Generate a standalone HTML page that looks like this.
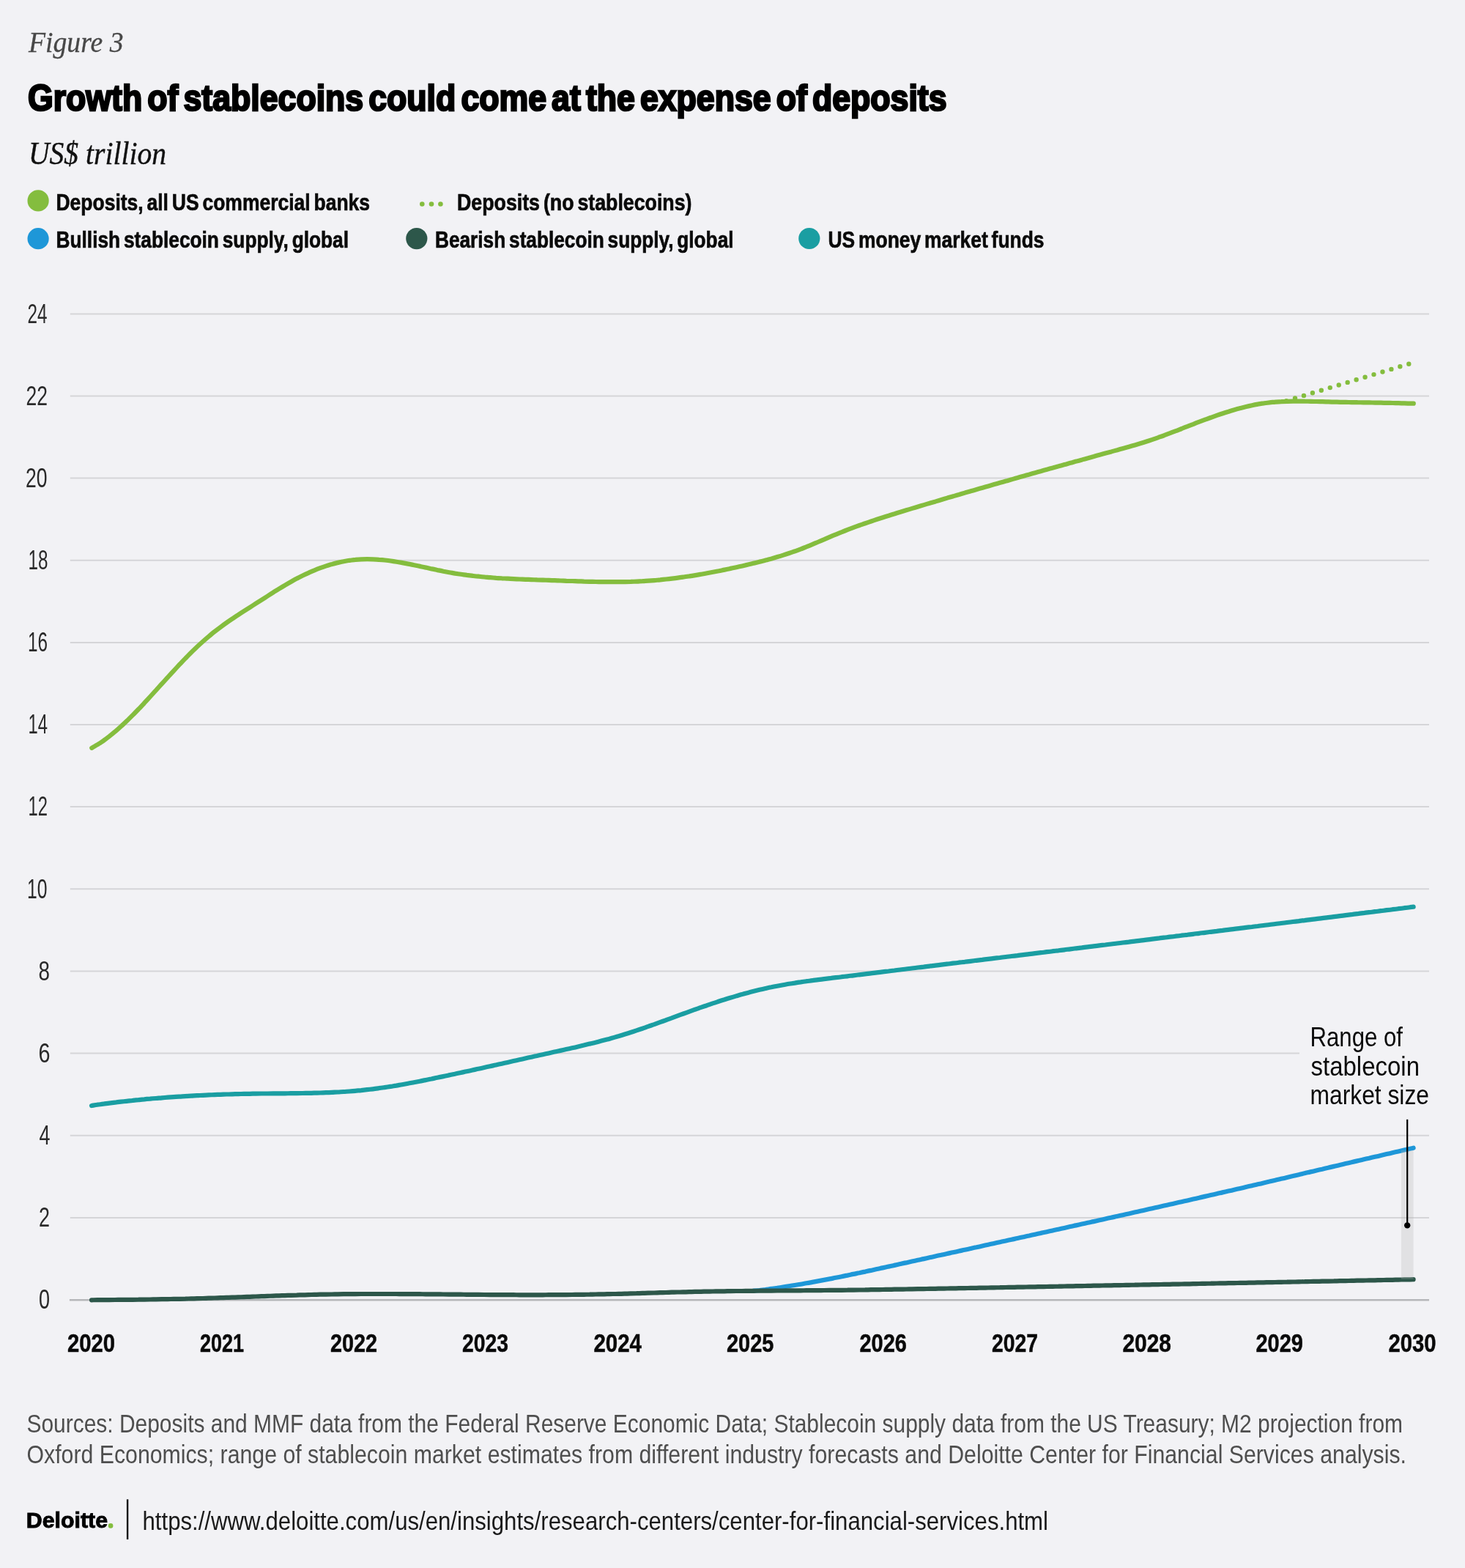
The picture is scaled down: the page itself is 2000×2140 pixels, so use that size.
<!DOCTYPE html>
<html><head><meta charset="utf-8"><title>Growth of stablecoins could come at the expense of deposits</title>
<style>html,body{margin:0;padding:0;background:#f2f2f5;} svg{display:block;}</style></head>
<body>
<svg width="2000" height="2140" viewBox="0 0 2000 2140">
<rect width="2000" height="2140" fill="#f2f2f5"/>
<text x="39.00" y="71.2" font-family="'Liberation Serif', serif" font-size="39.4" font-weight="normal" font-style="italic" fill="#484848" textLength="129.50" lengthAdjust="spacingAndGlyphs" stroke="#484848" stroke-width="0.3">Figure 3</text>
<text x="38.00" y="151.0" font-family="'Liberation Sans', sans-serif" font-size="50.5" font-weight="bold" font-style="normal" fill="#000" textLength="1254.50" lengthAdjust="spacingAndGlyphs" stroke="#000" stroke-width="2.6" word-spacing="-6">Growth of stablecoins could come at the expense of deposits</text>
<text x="39.00" y="224.0" font-family="'Liberation Serif', serif" font-size="44.8" font-weight="normal" font-style="italic" fill="#111" textLength="188.00" lengthAdjust="spacingAndGlyphs" stroke="#111" stroke-width="0.4">US$ trillion</text>
<circle cx="52.1" cy="273.9" r="14.6" fill="#84bd3e"/>
<circle cx="52.1" cy="325.7" r="14.6" fill="#1e97d8"/>
<circle cx="568.8" cy="325.6" r="14.6" fill="#2d574a"/>
<circle cx="1104.8" cy="325.5" r="14.6" fill="#1a9ea2"/>
<circle cx="576.3" cy="278.5" r="3.3" fill="#84bd3e"/>
<circle cx="589.0" cy="278.5" r="3.3" fill="#84bd3e"/>
<circle cx="601.4" cy="278.5" r="3.3" fill="#84bd3e"/>
<text x="76.50" y="286.9" font-family="'Liberation Sans', sans-serif" font-size="32.0" font-weight="bold" font-style="normal" fill="#0a0a0a" textLength="428.50" lengthAdjust="spacingAndGlyphs" stroke="#0a0a0a" stroke-width="0.7" word-spacing="-3">Deposits, all US commercial banks</text>
<text x="624.00" y="286.9" font-family="'Liberation Sans', sans-serif" font-size="32.0" font-weight="bold" font-style="normal" fill="#0a0a0a" textLength="320.50" lengthAdjust="spacingAndGlyphs" stroke="#0a0a0a" stroke-width="0.7" word-spacing="-3">Deposits (no stablecoins)</text>
<text x="76.50" y="338.4" font-family="'Liberation Sans', sans-serif" font-size="32.0" font-weight="bold" font-style="normal" fill="#0a0a0a" textLength="399.50" lengthAdjust="spacingAndGlyphs" stroke="#0a0a0a" stroke-width="0.7" word-spacing="-3">Bullish stablecoin supply, global</text>
<text x="594.00" y="338.4" font-family="'Liberation Sans', sans-serif" font-size="32.0" font-weight="bold" font-style="normal" fill="#0a0a0a" textLength="407.50" lengthAdjust="spacingAndGlyphs" stroke="#0a0a0a" stroke-width="0.7" word-spacing="-3">Bearish stablecoin supply, global</text>
<text x="1130.50" y="338.4" font-family="'Liberation Sans', sans-serif" font-size="32.0" font-weight="bold" font-style="normal" fill="#0a0a0a" textLength="295.00" lengthAdjust="spacingAndGlyphs" stroke="#0a0a0a" stroke-width="0.7" word-spacing="-3">US money market funds</text>
<line x1="95.8" y1="428.4" x2="1951" y2="428.4" stroke="#d5d5d8" stroke-width="2"/>
<line x1="95.8" y1="540.5" x2="1951" y2="540.5" stroke="#d5d5d8" stroke-width="2"/>
<line x1="95.8" y1="652.6" x2="1951" y2="652.6" stroke="#d5d5d8" stroke-width="2"/>
<line x1="95.8" y1="764.7" x2="1951" y2="764.7" stroke="#d5d5d8" stroke-width="2"/>
<line x1="95.8" y1="876.9" x2="1951" y2="876.9" stroke="#d5d5d8" stroke-width="2"/>
<line x1="95.8" y1="989.0" x2="1951" y2="989.0" stroke="#d5d5d8" stroke-width="2"/>
<line x1="95.8" y1="1101.1" x2="1951" y2="1101.1" stroke="#d5d5d8" stroke-width="2"/>
<line x1="95.8" y1="1213.3" x2="1951" y2="1213.3" stroke="#d5d5d8" stroke-width="2"/>
<line x1="95.8" y1="1325.4" x2="1951" y2="1325.4" stroke="#d5d5d8" stroke-width="2"/>
<line x1="95.8" y1="1437.6" x2="1774" y2="1437.6" stroke="#d5d5d8" stroke-width="2"/>
<line x1="95.8" y1="1549.8" x2="1951" y2="1549.8" stroke="#d5d5d8" stroke-width="2"/>
<line x1="95.8" y1="1661.9" x2="1951" y2="1661.9" stroke="#d5d5d8" stroke-width="2"/>
<line x1="94.9" y1="1774.3" x2="1951" y2="1774.3" stroke="#b6b7ba" stroke-width="2.5"/>
<text x="37.50" y="440.7" font-family="'Liberation Sans', sans-serif" font-size="36.3" font-weight="normal" font-style="normal" fill="#2a2a2a" textLength="27.00" lengthAdjust="spacingAndGlyphs" >24</text>
<text x="35.50" y="552.8" font-family="'Liberation Sans', sans-serif" font-size="36.3" font-weight="normal" font-style="normal" fill="#2a2a2a" textLength="29.50" lengthAdjust="spacingAndGlyphs" >22</text>
<text x="35.00" y="664.9" font-family="'Liberation Sans', sans-serif" font-size="36.3" font-weight="normal" font-style="normal" fill="#2a2a2a" textLength="29.50" lengthAdjust="spacingAndGlyphs" >20</text>
<text x="38.50" y="777.0" font-family="'Liberation Sans', sans-serif" font-size="36.3" font-weight="normal" font-style="normal" fill="#2a2a2a" textLength="27.00" lengthAdjust="spacingAndGlyphs" >18</text>
<text x="38.00" y="889.2" font-family="'Liberation Sans', sans-serif" font-size="36.3" font-weight="normal" font-style="normal" fill="#2a2a2a" textLength="27.00" lengthAdjust="spacingAndGlyphs" >16</text>
<text x="38.50" y="1001.3" font-family="'Liberation Sans', sans-serif" font-size="36.3" font-weight="normal" font-style="normal" fill="#2a2a2a" textLength="26.50" lengthAdjust="spacingAndGlyphs" >14</text>
<text x="38.50" y="1113.4" font-family="'Liberation Sans', sans-serif" font-size="36.3" font-weight="normal" font-style="normal" fill="#2a2a2a" textLength="26.50" lengthAdjust="spacingAndGlyphs" >12</text>
<text x="37.00" y="1225.6" font-family="'Liberation Sans', sans-serif" font-size="36.3" font-weight="normal" font-style="normal" fill="#2a2a2a" textLength="27.50" lengthAdjust="spacingAndGlyphs" >10</text>
<text x="52.50" y="1337.7" font-family="'Liberation Sans', sans-serif" font-size="36.3" font-weight="normal" font-style="normal" fill="#2a2a2a" textLength="15.50" lengthAdjust="spacingAndGlyphs" >8</text>
<text x="52.50" y="1449.9" font-family="'Liberation Sans', sans-serif" font-size="36.3" font-weight="normal" font-style="normal" fill="#2a2a2a" textLength="16.00" lengthAdjust="spacingAndGlyphs" >6</text>
<text x="53.50" y="1562.1" font-family="'Liberation Sans', sans-serif" font-size="36.3" font-weight="normal" font-style="normal" fill="#2a2a2a" textLength="15.00" lengthAdjust="spacingAndGlyphs" >4</text>
<text x="53.00" y="1674.2" font-family="'Liberation Sans', sans-serif" font-size="36.3" font-weight="normal" font-style="normal" fill="#2a2a2a" textLength="15.00" lengthAdjust="spacingAndGlyphs" >2</text>
<text x="53.00" y="1786.4" font-family="'Liberation Sans', sans-serif" font-size="36.3" font-weight="normal" font-style="normal" fill="#2a2a2a" textLength="15.00" lengthAdjust="spacingAndGlyphs" >0</text>
<text x="92.00" y="1845.4" font-family="'Liberation Sans', sans-serif" font-size="34.4" font-weight="bold" font-style="normal" fill="#0a0a0a" textLength="65.00" lengthAdjust="spacingAndGlyphs" stroke="#0a0a0a" stroke-width="0.5">2020</text>
<text x="273.00" y="1845.4" font-family="'Liberation Sans', sans-serif" font-size="34.4" font-weight="bold" font-style="normal" fill="#0a0a0a" textLength="60.00" lengthAdjust="spacingAndGlyphs" stroke="#0a0a0a" stroke-width="0.5">2021</text>
<text x="451.00" y="1845.4" font-family="'Liberation Sans', sans-serif" font-size="34.4" font-weight="bold" font-style="normal" fill="#0a0a0a" textLength="64.00" lengthAdjust="spacingAndGlyphs" stroke="#0a0a0a" stroke-width="0.5">2022</text>
<text x="631.00" y="1845.4" font-family="'Liberation Sans', sans-serif" font-size="34.4" font-weight="bold" font-style="normal" fill="#0a0a0a" textLength="63.00" lengthAdjust="spacingAndGlyphs" stroke="#0a0a0a" stroke-width="0.5">2023</text>
<text x="810.50" y="1845.4" font-family="'Liberation Sans', sans-serif" font-size="34.4" font-weight="bold" font-style="normal" fill="#0a0a0a" textLength="65.50" lengthAdjust="spacingAndGlyphs" stroke="#0a0a0a" stroke-width="0.5">2024</text>
<text x="992.00" y="1845.4" font-family="'Liberation Sans', sans-serif" font-size="34.4" font-weight="bold" font-style="normal" fill="#0a0a0a" textLength="64.50" lengthAdjust="spacingAndGlyphs" stroke="#0a0a0a" stroke-width="0.5">2025</text>
<text x="1173.50" y="1845.4" font-family="'Liberation Sans', sans-serif" font-size="34.4" font-weight="bold" font-style="normal" fill="#0a0a0a" textLength="64.50" lengthAdjust="spacingAndGlyphs" stroke="#0a0a0a" stroke-width="0.5">2026</text>
<text x="1354.00" y="1845.4" font-family="'Liberation Sans', sans-serif" font-size="34.4" font-weight="bold" font-style="normal" fill="#0a0a0a" textLength="63.00" lengthAdjust="spacingAndGlyphs" stroke="#0a0a0a" stroke-width="0.5">2027</text>
<text x="1532.50" y="1845.4" font-family="'Liberation Sans', sans-serif" font-size="34.4" font-weight="bold" font-style="normal" fill="#0a0a0a" textLength="66.50" lengthAdjust="spacingAndGlyphs" stroke="#0a0a0a" stroke-width="0.5">2028</text>
<text x="1714.50" y="1845.4" font-family="'Liberation Sans', sans-serif" font-size="34.4" font-weight="bold" font-style="normal" fill="#0a0a0a" textLength="64.50" lengthAdjust="spacingAndGlyphs" stroke="#0a0a0a" stroke-width="0.5">2029</text>
<text x="1895.50" y="1845.4" font-family="'Liberation Sans', sans-serif" font-size="34.4" font-weight="bold" font-style="normal" fill="#0a0a0a" textLength="65.00" lengthAdjust="spacingAndGlyphs" stroke="#0a0a0a" stroke-width="0.5">2030</text>
<path d="M1756.05,547.1 L1923.3,496.7" fill="none" stroke="#84bd3e" stroke-width="6.4" stroke-linecap="round" stroke-dasharray="0 12.477"/>
<path d="M125.3,1020.8 C126.6,1020.0 130.6,1017.8 133.3,1016.2 C136.0,1014.5 138.6,1012.7 141.3,1010.9 C144.0,1009.0 146.6,1007.0 149.3,1004.9 C152.0,1002.8 154.6,1000.6 157.3,998.4 C160.0,996.1 162.6,993.8 165.3,991.3 C168.0,988.9 170.6,986.4 173.3,983.8 C176.0,981.2 178.6,978.6 181.3,975.9 C184.0,973.2 186.6,970.5 189.3,967.7 C192.0,964.9 194.6,962.1 197.3,959.2 C200.0,956.3 202.6,953.4 205.3,950.5 C208.0,947.6 210.6,944.7 213.3,941.7 C216.0,938.8 218.6,935.8 221.3,932.9 C224.0,930.0 226.6,927.0 229.3,924.1 C232.0,921.1 234.6,918.2 237.3,915.3 C240.0,912.4 242.6,909.6 245.3,906.7 C248.0,903.9 250.6,901.1 253.3,898.4 C256.0,895.6 258.6,892.9 261.3,890.3 C264.0,887.6 266.6,885.0 269.3,882.5 C272.0,880.0 274.6,877.6 277.3,875.2 C280.0,872.8 282.6,870.5 285.3,868.3 C288.0,866.1 290.6,863.9 293.3,861.8 C296.0,859.7 298.6,857.7 301.3,855.7 C304.0,853.7 306.6,851.8 309.3,849.9 C312.0,848.0 314.6,846.2 317.3,844.4 C320.0,842.6 322.6,840.8 325.3,839.1 C328.0,837.3 330.6,835.6 333.3,833.9 C336.0,832.2 338.6,830.5 341.3,828.8 C344.0,827.1 346.6,825.4 349.3,823.7 C352.0,822.0 354.6,820.3 357.3,818.6 C360.0,816.9 362.6,815.2 365.3,813.5 C368.0,811.8 370.6,810.1 373.3,808.4 C376.0,806.7 378.6,805.0 381.3,803.4 C384.0,801.8 386.6,800.2 389.3,798.6 C392.0,797.0 394.6,795.5 397.3,794.0 C400.0,792.5 402.6,791.0 405.3,789.6 C408.0,788.2 410.6,786.8 413.3,785.5 C416.0,784.2 418.6,783.0 421.3,781.8 C424.0,780.6 426.6,779.4 429.3,778.3 C432.0,777.2 434.6,776.2 437.3,775.2 C440.0,774.2 442.6,773.3 445.3,772.4 C448.0,771.6 450.6,770.7 453.3,770.0 C456.0,769.2 458.6,768.5 461.3,767.9 C464.0,767.3 466.6,766.7 469.3,766.2 C472.0,765.7 474.6,765.2 477.3,764.8 C480.0,764.5 482.6,764.1 485.3,763.9 C488.0,763.6 490.6,763.4 493.3,763.3 C496.0,763.2 498.6,763.1 501.3,763.1 C504.0,763.1 506.6,763.2 509.3,763.3 C512.0,763.4 514.6,763.5 517.3,763.8 C520.0,764.0 522.6,764.2 525.3,764.5 C528.0,764.8 530.6,765.1 533.3,765.5 C536.0,765.9 538.6,766.3 541.3,766.7 C544.0,767.1 546.6,767.6 549.3,768.1 C552.0,768.6 554.6,769.1 557.3,769.6 C560.0,770.1 562.6,770.7 565.3,771.2 C568.0,771.8 570.6,772.4 573.3,772.9 C576.0,773.5 578.6,774.1 581.3,774.6 C584.0,775.2 586.6,775.8 589.3,776.4 C592.0,776.9 594.6,777.5 597.3,778.1 C600.0,778.6 602.6,779.1 605.3,779.7 C608.0,780.2 610.6,780.7 613.3,781.2 C616.0,781.7 618.6,782.1 621.3,782.6 C624.0,783.0 626.6,783.4 629.3,783.8 C632.0,784.2 634.6,784.5 637.3,784.9 C640.0,785.2 642.6,785.6 645.3,785.9 C648.0,786.2 650.6,786.5 653.3,786.7 C656.0,787.0 658.6,787.3 661.3,787.5 C664.0,787.7 666.6,788.0 669.3,788.2 C672.0,788.4 674.6,788.6 677.3,788.8 C680.0,788.9 682.6,789.1 685.3,789.3 C688.0,789.4 690.6,789.6 693.3,789.7 C696.0,789.9 698.6,790.0 701.3,790.1 C704.0,790.2 706.6,790.4 709.3,790.5 C712.0,790.6 714.6,790.7 717.3,790.8 C720.0,790.9 722.6,791.0 725.3,791.1 C728.0,791.2 730.6,791.3 733.3,791.4 C736.0,791.4 738.6,791.5 741.3,791.6 C744.0,791.7 746.6,791.8 749.3,791.9 C752.0,792.0 754.6,792.1 757.3,792.2 C760.0,792.3 762.6,792.4 765.3,792.5 C768.0,792.6 770.6,792.7 773.3,792.8 C776.0,792.8 778.6,792.9 781.3,793.0 C784.0,793.1 786.6,793.2 789.3,793.3 C792.0,793.4 794.6,793.5 797.3,793.6 C800.0,793.6 802.6,793.7 805.3,793.8 C808.0,793.9 810.6,793.9 813.3,794.0 C816.0,794.0 818.6,794.1 821.3,794.1 C824.0,794.1 826.6,794.2 829.3,794.2 C832.0,794.2 834.6,794.2 837.3,794.2 C840.0,794.2 842.6,794.2 845.3,794.2 C848.0,794.2 850.6,794.1 853.3,794.1 C856.0,794.0 858.6,793.9 861.3,793.9 C864.0,793.8 866.6,793.7 869.3,793.6 C872.0,793.5 874.6,793.3 877.3,793.2 C880.0,793.0 882.6,792.9 885.3,792.7 C888.0,792.5 890.6,792.3 893.3,792.1 C896.0,791.9 898.6,791.6 901.3,791.4 C904.0,791.1 906.6,790.8 909.3,790.5 C912.0,790.3 914.6,790.0 917.3,789.6 C920.0,789.3 922.6,789.0 925.3,788.6 C928.0,788.3 930.6,787.9 933.3,787.5 C936.0,787.2 938.6,786.8 941.3,786.4 C944.0,785.9 946.6,785.5 949.3,785.1 C952.0,784.7 954.6,784.2 957.3,783.7 C960.0,783.3 962.6,782.8 965.3,782.3 C968.0,781.8 970.6,781.3 973.3,780.8 C976.0,780.3 978.6,779.8 981.3,779.3 C984.0,778.7 986.6,778.2 989.3,777.6 C992.0,777.1 994.6,776.5 997.3,775.9 C1000.0,775.4 1002.6,774.8 1005.3,774.2 C1008.0,773.6 1010.6,773.0 1013.3,772.4 C1016.0,771.8 1018.6,771.2 1021.3,770.5 C1024.0,769.9 1026.6,769.3 1029.3,768.6 C1032.0,768.0 1034.6,767.3 1037.3,766.6 C1040.0,766.0 1042.6,765.3 1045.3,764.6 C1048.0,763.9 1050.6,763.1 1053.3,762.4 C1056.0,761.6 1058.6,760.9 1061.3,760.1 C1064.0,759.3 1066.6,758.5 1069.3,757.6 C1072.0,756.8 1074.6,755.9 1077.3,755.0 C1080.0,754.1 1082.6,753.2 1085.3,752.3 C1088.0,751.3 1090.6,750.3 1093.3,749.3 C1096.0,748.3 1098.6,747.2 1101.3,746.2 C1104.0,745.1 1106.6,744.0 1109.3,742.9 C1112.0,741.8 1114.6,740.6 1117.3,739.5 C1120.0,738.3 1122.6,737.2 1125.3,736.1 C1128.0,734.9 1130.6,733.8 1133.3,732.6 C1136.0,731.5 1138.6,730.4 1141.3,729.3 C1144.0,728.2 1146.6,727.1 1149.3,726.1 C1152.0,725.0 1154.6,724.0 1157.3,722.9 C1160.0,721.9 1162.6,720.9 1165.3,719.9 C1168.0,718.9 1170.6,718.0 1173.3,717.0 C1176.0,716.1 1178.6,715.1 1181.3,714.2 C1184.0,713.3 1186.6,712.4 1189.3,711.5 C1192.0,710.6 1194.6,709.7 1197.3,708.8 C1200.0,707.9 1202.6,707.1 1205.3,706.2 C1208.0,705.3 1210.6,704.5 1213.3,703.7 C1216.0,702.8 1218.6,702.0 1221.3,701.2 C1224.0,700.3 1226.6,699.5 1229.3,698.7 C1232.0,697.9 1234.6,697.1 1237.3,696.3 C1240.0,695.5 1242.6,694.7 1245.3,693.9 C1248.0,693.1 1250.6,692.3 1253.3,691.5 C1256.0,690.7 1258.6,689.9 1261.3,689.1 C1264.0,688.3 1266.6,687.5 1269.3,686.7 C1272.0,685.9 1274.6,685.1 1277.3,684.4 C1280.0,683.6 1282.6,682.8 1285.3,682.0 C1288.0,681.2 1290.6,680.4 1293.3,679.6 C1296.0,678.9 1298.6,678.1 1301.3,677.3 C1304.0,676.5 1306.6,675.7 1309.3,675.0 C1312.0,674.2 1314.6,673.4 1317.3,672.6 C1320.0,671.9 1322.6,671.1 1325.3,670.3 C1328.0,669.5 1330.6,668.8 1333.3,668.0 C1336.0,667.2 1338.6,666.5 1341.3,665.7 C1344.0,664.9 1346.6,664.2 1349.3,663.4 C1352.0,662.6 1354.6,661.9 1357.3,661.1 C1360.0,660.3 1362.6,659.6 1365.3,658.8 C1368.0,658.0 1370.6,657.3 1373.3,656.5 C1376.0,655.8 1378.6,655.0 1381.3,654.3 C1384.0,653.5 1386.6,652.7 1389.3,652.0 C1392.0,651.2 1394.6,650.5 1397.3,649.7 C1400.0,649.0 1402.6,648.2 1405.3,647.5 C1408.0,646.7 1410.6,646.0 1413.3,645.2 C1416.0,644.5 1418.6,643.7 1421.3,643.0 C1424.0,642.2 1426.6,641.5 1429.3,640.7 C1432.0,640.0 1434.6,639.2 1437.3,638.5 C1440.0,637.7 1442.6,637.0 1445.3,636.3 C1448.0,635.5 1450.6,634.8 1453.3,634.0 C1456.0,633.3 1458.6,632.5 1461.3,631.8 C1464.0,631.1 1466.6,630.3 1469.3,629.6 C1472.0,628.8 1474.6,628.1 1477.3,627.4 C1480.0,626.6 1482.6,625.9 1485.3,625.2 C1488.0,624.4 1490.6,623.7 1493.3,623.0 C1496.0,622.2 1498.6,621.5 1501.3,620.7 C1504.0,620.0 1506.6,619.3 1509.3,618.5 C1512.0,617.8 1514.6,617.1 1517.3,616.4 C1520.0,615.6 1522.6,614.9 1525.3,614.2 C1528.0,613.4 1530.6,612.7 1533.3,611.9 C1536.0,611.2 1538.6,610.5 1541.3,609.7 C1544.0,608.9 1546.6,608.2 1549.3,607.4 C1552.0,606.6 1554.6,605.8 1557.3,605.0 C1560.0,604.2 1562.6,603.4 1565.3,602.5 C1568.0,601.6 1570.6,600.8 1573.3,599.9 C1576.0,598.9 1578.6,598.0 1581.3,597.1 C1584.0,596.1 1586.6,595.1 1589.3,594.2 C1592.0,593.2 1594.6,592.2 1597.3,591.2 C1600.0,590.1 1602.6,589.1 1605.3,588.1 C1608.0,587.1 1610.6,586.0 1613.3,585.0 C1616.0,583.9 1618.6,582.9 1621.3,581.9 C1624.0,580.8 1626.6,579.8 1629.3,578.8 C1632.0,577.7 1634.6,576.7 1637.3,575.7 C1640.0,574.7 1642.6,573.7 1645.3,572.7 C1648.0,571.7 1650.6,570.7 1653.3,569.8 C1656.0,568.8 1658.6,567.9 1661.3,566.9 C1664.0,566.0 1666.6,565.1 1669.3,564.2 C1672.0,563.3 1674.6,562.5 1677.3,561.7 C1680.0,560.8 1682.6,560.0 1685.3,559.2 C1688.0,558.5 1690.6,557.7 1693.3,557.0 C1696.0,556.3 1698.6,555.6 1701.3,555.0 C1704.0,554.4 1706.6,553.8 1709.3,553.2 C1712.0,552.6 1714.6,552.1 1717.3,551.6 C1720.0,551.2 1722.6,550.7 1725.3,550.4 C1728.0,550.0 1730.6,549.6 1733.3,549.3 C1736.0,549.1 1738.6,548.8 1741.3,548.6 C1744.0,548.4 1746.6,548.2 1749.3,548.1 C1752.0,547.9 1754.6,547.8 1757.3,547.8 C1760.0,547.7 1762.6,547.6 1765.3,547.6 C1768.0,547.6 1770.6,547.6 1773.3,547.6 C1776.0,547.6 1778.6,547.6 1781.3,547.7 C1784.0,547.7 1786.6,547.8 1789.3,547.8 C1792.0,547.9 1794.6,548.0 1797.3,548.0 C1800.0,548.1 1802.6,548.2 1805.3,548.2 C1808.0,548.3 1810.6,548.4 1813.3,548.4 C1816.0,548.5 1818.6,548.6 1821.3,548.6 C1824.0,548.7 1826.6,548.7 1829.3,548.8 C1832.0,548.8 1834.6,548.9 1837.3,548.9 C1840.0,549.0 1842.6,549.0 1845.3,549.1 C1848.0,549.1 1850.6,549.1 1853.3,549.2 C1856.0,549.2 1858.6,549.3 1861.3,549.3 C1864.0,549.4 1866.6,549.4 1869.3,549.4 C1872.0,549.5 1874.6,549.5 1877.3,549.6 C1880.0,549.6 1882.6,549.7 1885.3,549.7 C1888.0,549.8 1890.6,549.8 1893.3,549.9 C1896.0,549.9 1898.6,550.0 1901.3,550.0 C1904.0,550.1 1906.6,550.1 1909.3,550.2 C1912.0,550.3 1914.6,550.3 1917.3,550.4 C1920.0,550.5 1923.2,550.6 1925.3,550.6 C1927.4,550.7 1929.1,550.7 1929.8,550.7" fill="none" stroke="#84bd3e" stroke-width="6.2" stroke-linecap="round" stroke-linejoin="round"/>
<path d="M125.0,1509.0 C126.3,1508.8 130.3,1508.1 133.0,1507.7 C135.7,1507.4 138.3,1507.0 141.0,1506.7 C143.7,1506.3 146.3,1506.0 149.0,1505.6 C151.7,1505.3 154.3,1505.0 157.0,1504.7 C159.7,1504.3 162.3,1504.0 165.0,1503.7 C167.7,1503.4 170.3,1503.1 173.0,1502.8 C175.7,1502.5 178.3,1502.3 181.0,1502.0 C183.7,1501.7 186.3,1501.4 189.0,1501.2 C191.7,1500.9 194.3,1500.6 197.0,1500.4 C199.7,1500.1 202.3,1499.9 205.0,1499.7 C207.7,1499.4 210.3,1499.2 213.0,1499.0 C215.7,1498.8 218.3,1498.5 221.0,1498.3 C223.7,1498.1 226.3,1497.9 229.0,1497.7 C231.7,1497.5 234.3,1497.3 237.0,1497.1 C239.7,1497.0 242.3,1496.8 245.0,1496.6 C247.7,1496.4 250.3,1496.3 253.0,1496.1 C255.7,1495.9 258.3,1495.8 261.0,1495.6 C263.7,1495.5 266.3,1495.3 269.0,1495.2 C271.7,1495.1 274.3,1494.9 277.0,1494.8 C279.7,1494.7 282.3,1494.6 285.0,1494.4 C287.7,1494.3 290.3,1494.2 293.0,1494.1 C295.7,1494.0 298.3,1493.9 301.0,1493.8 C303.7,1493.7 306.3,1493.6 309.0,1493.5 C311.7,1493.5 314.3,1493.4 317.0,1493.3 C319.7,1493.2 322.3,1493.2 325.0,1493.1 C327.7,1493.0 330.3,1493.0 333.0,1492.9 C335.7,1492.9 338.3,1492.8 341.0,1492.8 C343.7,1492.7 346.3,1492.7 349.0,1492.6 C351.7,1492.6 354.3,1492.6 357.0,1492.5 C359.7,1492.5 362.3,1492.5 365.0,1492.5 C367.7,1492.4 370.3,1492.4 373.0,1492.4 C375.7,1492.4 378.3,1492.4 381.0,1492.3 C383.7,1492.3 386.3,1492.3 389.0,1492.3 C391.7,1492.3 394.3,1492.2 397.0,1492.2 C399.7,1492.2 402.3,1492.2 405.0,1492.1 C407.7,1492.1 410.3,1492.1 413.0,1492.0 C415.7,1492.0 418.3,1491.9 421.0,1491.9 C423.7,1491.8 426.3,1491.8 429.0,1491.7 C431.7,1491.6 434.3,1491.6 437.0,1491.5 C439.7,1491.4 442.3,1491.3 445.0,1491.2 C447.7,1491.1 450.3,1491.0 453.0,1490.9 C455.7,1490.8 458.3,1490.6 461.0,1490.5 C463.7,1490.3 466.3,1490.2 469.0,1490.0 C471.7,1489.8 474.3,1489.7 477.0,1489.5 C479.7,1489.3 482.3,1489.1 485.0,1488.8 C487.7,1488.6 490.3,1488.3 493.0,1488.1 C495.7,1487.8 498.3,1487.5 501.0,1487.2 C503.7,1486.9 506.3,1486.6 509.0,1486.3 C511.7,1486.0 514.3,1485.6 517.0,1485.2 C519.7,1484.9 522.3,1484.5 525.0,1484.1 C527.7,1483.7 530.3,1483.3 533.0,1482.9 C535.7,1482.5 538.3,1482.0 541.0,1481.6 C543.7,1481.1 546.3,1480.7 549.0,1480.2 C551.7,1479.7 554.3,1479.2 557.0,1478.7 C559.7,1478.3 562.3,1477.7 565.0,1477.2 C567.7,1476.7 570.3,1476.2 573.0,1475.7 C575.7,1475.2 578.3,1474.6 581.0,1474.1 C583.7,1473.6 586.3,1473.0 589.0,1472.5 C591.7,1471.9 594.3,1471.4 597.0,1470.8 C599.7,1470.3 602.3,1469.7 605.0,1469.1 C607.7,1468.6 610.3,1468.0 613.0,1467.4 C615.7,1466.9 618.3,1466.3 621.0,1465.7 C623.7,1465.2 626.3,1464.6 629.0,1464.0 C631.7,1463.4 634.3,1462.9 637.0,1462.3 C639.7,1461.7 642.3,1461.1 645.0,1460.5 C647.7,1459.9 650.3,1459.4 653.0,1458.8 C655.7,1458.2 658.3,1457.6 661.0,1457.0 C663.7,1456.4 666.3,1455.8 669.0,1455.2 C671.7,1454.6 674.3,1454.1 677.0,1453.5 C679.7,1452.9 682.3,1452.3 685.0,1451.7 C687.7,1451.1 690.3,1450.5 693.0,1449.9 C695.7,1449.3 698.3,1448.7 701.0,1448.1 C703.7,1447.5 706.3,1446.9 709.0,1446.3 C711.7,1445.7 714.3,1445.1 717.0,1444.5 C719.7,1443.9 722.3,1443.3 725.0,1442.7 C727.7,1442.1 730.3,1441.5 733.0,1441.0 C735.7,1440.4 738.3,1439.8 741.0,1439.2 C743.7,1438.6 746.3,1438.0 749.0,1437.4 C751.7,1436.8 754.3,1436.2 757.0,1435.6 C759.7,1435.0 762.3,1434.5 765.0,1433.9 C767.7,1433.3 770.3,1432.7 773.0,1432.1 C775.7,1431.5 778.3,1430.9 781.0,1430.3 C783.7,1429.7 786.3,1429.1 789.0,1428.4 C791.7,1427.8 794.3,1427.2 797.0,1426.6 C799.7,1425.9 802.3,1425.3 805.0,1424.6 C807.7,1424.0 810.3,1423.3 813.0,1422.7 C815.7,1422.0 818.3,1421.3 821.0,1420.6 C823.7,1419.9 826.3,1419.2 829.0,1418.5 C831.7,1417.8 834.3,1417.0 837.0,1416.3 C839.7,1415.5 842.3,1414.7 845.0,1414.0 C847.7,1413.2 850.3,1412.4 853.0,1411.5 C855.7,1410.7 858.3,1409.9 861.0,1409.0 C863.7,1408.1 866.3,1407.3 869.0,1406.4 C871.7,1405.5 874.3,1404.6 877.0,1403.7 C879.7,1402.8 882.3,1401.8 885.0,1400.9 C887.7,1400.0 890.3,1399.0 893.0,1398.1 C895.7,1397.1 898.3,1396.2 901.0,1395.2 C903.7,1394.2 906.3,1393.3 909.0,1392.3 C911.7,1391.3 914.3,1390.3 917.0,1389.4 C919.7,1388.4 922.3,1387.4 925.0,1386.4 C927.7,1385.4 930.3,1384.5 933.0,1383.5 C935.7,1382.5 938.3,1381.6 941.0,1380.6 C943.7,1379.6 946.3,1378.7 949.0,1377.7 C951.7,1376.8 954.3,1375.8 957.0,1374.9 C959.7,1374.0 962.3,1373.1 965.0,1372.2 C967.7,1371.2 970.3,1370.3 973.0,1369.4 C975.7,1368.6 978.3,1367.7 981.0,1366.8 C983.7,1365.9 986.3,1365.1 989.0,1364.3 C991.7,1363.4 994.3,1362.6 997.0,1361.8 C999.7,1361.0 1002.3,1360.2 1005.0,1359.4 C1007.7,1358.6 1010.3,1357.8 1013.0,1357.1 C1015.7,1356.3 1018.3,1355.6 1021.0,1354.9 C1023.7,1354.2 1026.3,1353.5 1029.0,1352.8 C1031.7,1352.1 1034.3,1351.5 1037.0,1350.8 C1039.7,1350.2 1042.3,1349.6 1045.0,1349.0 C1047.7,1348.4 1050.3,1347.8 1053.0,1347.3 C1055.7,1346.7 1058.3,1346.2 1061.0,1345.7 C1063.7,1345.2 1066.3,1344.7 1069.0,1344.2 C1071.7,1343.7 1074.3,1343.3 1077.0,1342.8 C1079.7,1342.4 1082.3,1342.0 1085.0,1341.6 C1087.7,1341.1 1090.3,1340.7 1093.0,1340.4 C1095.7,1340.0 1098.3,1339.6 1101.0,1339.2 C1103.7,1338.9 1106.3,1338.5 1109.0,1338.2 C1111.7,1337.8 1114.3,1337.5 1117.0,1337.1 C1119.7,1336.8 1122.3,1336.5 1125.0,1336.1 C1127.7,1335.8 1130.3,1335.5 1133.0,1335.2 C1135.7,1334.8 1138.3,1334.5 1141.0,1334.2 C1143.7,1333.9 1146.3,1333.6 1149.0,1333.2 C1151.7,1332.9 1154.3,1332.6 1157.0,1332.3 C1159.7,1332.0 1162.3,1331.6 1165.0,1331.3 C1167.7,1331.0 1170.3,1330.7 1173.0,1330.3 C1175.7,1330.0 1178.3,1329.7 1181.0,1329.4 C1183.7,1329.1 1186.3,1328.7 1189.0,1328.4 C1191.7,1328.1 1194.3,1327.7 1197.0,1327.4 C1199.7,1327.1 1202.3,1326.8 1205.0,1326.4 C1207.7,1326.1 1210.3,1325.8 1213.0,1325.5 C1215.7,1325.1 1218.3,1324.8 1221.0,1324.5 C1223.7,1324.1 1226.3,1323.8 1229.0,1323.5 C1231.7,1323.2 1234.3,1322.8 1237.0,1322.5 C1239.7,1322.2 1242.3,1321.8 1245.0,1321.5 C1247.7,1321.2 1250.3,1320.9 1253.0,1320.5 C1255.7,1320.2 1258.3,1319.9 1261.0,1319.6 C1263.7,1319.2 1266.3,1318.9 1269.0,1318.6 C1271.7,1318.3 1274.3,1317.9 1277.0,1317.6 C1279.7,1317.3 1282.3,1317.0 1285.0,1316.6 C1287.7,1316.3 1290.3,1316.0 1293.0,1315.7 C1295.7,1315.4 1298.3,1315.0 1301.0,1314.7 C1303.7,1314.4 1306.3,1314.1 1309.0,1313.7 C1311.7,1313.4 1314.3,1313.1 1317.0,1312.8 C1319.7,1312.4 1322.3,1312.1 1325.0,1311.8 C1327.7,1311.5 1330.3,1311.2 1333.0,1310.8 C1335.7,1310.5 1338.3,1310.2 1341.0,1309.9 C1343.7,1309.5 1346.3,1309.2 1349.0,1308.9 C1351.7,1308.6 1354.3,1308.3 1357.0,1307.9 C1359.7,1307.6 1362.3,1307.3 1365.0,1307.0 C1367.7,1306.6 1370.3,1306.3 1373.0,1306.0 C1375.7,1305.7 1378.3,1305.3 1381.0,1305.0 C1383.7,1304.7 1386.3,1304.4 1389.0,1304.1 C1391.7,1303.7 1394.3,1303.4 1397.0,1303.1 C1399.7,1302.8 1402.3,1302.4 1405.0,1302.1 C1407.7,1301.8 1410.3,1301.5 1413.0,1301.1 C1415.7,1300.8 1418.3,1300.5 1421.0,1300.2 C1423.7,1299.9 1426.3,1299.5 1429.0,1299.2 C1431.7,1298.9 1434.3,1298.6 1437.0,1298.2 C1439.7,1297.9 1442.3,1297.6 1445.0,1297.3 C1447.7,1296.9 1450.3,1296.6 1453.0,1296.3 C1455.7,1296.0 1458.3,1295.6 1461.0,1295.3 C1463.7,1295.0 1466.3,1294.7 1469.0,1294.3 C1471.7,1294.0 1474.3,1293.7 1477.0,1293.4 C1479.7,1293.0 1482.3,1292.7 1485.0,1292.4 C1487.7,1292.1 1490.3,1291.7 1493.0,1291.4 C1495.7,1291.1 1498.3,1290.8 1501.0,1290.4 C1503.7,1290.1 1506.3,1289.8 1509.0,1289.5 C1511.7,1289.1 1514.3,1288.8 1517.0,1288.5 C1519.7,1288.2 1522.3,1287.8 1525.0,1287.5 C1527.7,1287.2 1530.3,1286.9 1533.0,1286.5 C1535.7,1286.2 1538.3,1285.9 1541.0,1285.6 C1543.7,1285.2 1546.3,1284.9 1549.0,1284.6 C1551.7,1284.3 1554.3,1283.9 1557.0,1283.6 C1559.7,1283.3 1562.3,1283.0 1565.0,1282.6 C1567.7,1282.3 1570.3,1282.0 1573.0,1281.6 C1575.7,1281.3 1578.3,1281.0 1581.0,1280.7 C1583.7,1280.3 1586.3,1280.0 1589.0,1279.7 C1591.7,1279.4 1594.3,1279.0 1597.0,1278.7 C1599.7,1278.4 1602.3,1278.1 1605.0,1277.7 C1607.7,1277.4 1610.3,1277.1 1613.0,1276.7 C1615.7,1276.4 1618.3,1276.1 1621.0,1275.8 C1623.7,1275.4 1626.3,1275.1 1629.0,1274.8 C1631.7,1274.5 1634.3,1274.1 1637.0,1273.8 C1639.7,1273.5 1642.3,1273.1 1645.0,1272.8 C1647.7,1272.5 1650.3,1272.2 1653.0,1271.8 C1655.7,1271.5 1658.3,1271.2 1661.0,1270.9 C1663.7,1270.5 1666.3,1270.2 1669.0,1269.9 C1671.7,1269.5 1674.3,1269.2 1677.0,1268.9 C1679.7,1268.6 1682.3,1268.2 1685.0,1267.9 C1687.7,1267.6 1690.3,1267.2 1693.0,1266.9 C1695.7,1266.6 1698.3,1266.3 1701.0,1265.9 C1703.7,1265.6 1706.3,1265.3 1709.0,1265.0 C1711.7,1264.6 1714.3,1264.3 1717.0,1264.0 C1719.7,1263.6 1722.3,1263.3 1725.0,1263.0 C1727.7,1262.7 1730.3,1262.3 1733.0,1262.0 C1735.7,1261.7 1738.3,1261.3 1741.0,1261.0 C1743.7,1260.7 1746.3,1260.3 1749.0,1260.0 C1751.7,1259.7 1754.3,1259.4 1757.0,1259.0 C1759.7,1258.7 1762.3,1258.4 1765.0,1258.0 C1767.7,1257.7 1770.3,1257.4 1773.0,1257.1 C1775.7,1256.7 1778.3,1256.4 1781.0,1256.1 C1783.7,1255.7 1786.3,1255.4 1789.0,1255.1 C1791.7,1254.8 1794.3,1254.4 1797.0,1254.1 C1799.7,1253.8 1802.3,1253.4 1805.0,1253.1 C1807.7,1252.8 1810.3,1252.4 1813.0,1252.1 C1815.7,1251.8 1818.3,1251.5 1821.0,1251.1 C1823.7,1250.8 1826.3,1250.5 1829.0,1250.1 C1831.7,1249.8 1834.3,1249.5 1837.0,1249.1 C1839.7,1248.8 1842.3,1248.5 1845.0,1248.2 C1847.7,1247.8 1850.3,1247.5 1853.0,1247.2 C1855.7,1246.8 1858.3,1246.5 1861.0,1246.2 C1863.7,1245.8 1866.3,1245.5 1869.0,1245.2 C1871.7,1244.9 1874.3,1244.5 1877.0,1244.2 C1879.7,1243.9 1882.3,1243.5 1885.0,1243.2 C1887.7,1242.9 1890.3,1242.5 1893.0,1242.2 C1895.7,1241.9 1898.3,1241.6 1901.0,1241.2 C1903.7,1240.9 1906.3,1240.6 1909.0,1240.2 C1911.7,1239.9 1914.3,1239.6 1917.0,1239.2 C1919.7,1238.9 1922.9,1238.5 1925.0,1238.2 C1927.1,1238.0 1928.8,1237.8 1929.6,1237.7" fill="none" stroke="#1a9ea2" stroke-width="6.2" stroke-linecap="round" stroke-linejoin="round"/>
<path d="M1029.0,1761.6 C1030.3,1761.5 1034.3,1761.2 1037.0,1761.0 C1039.7,1760.7 1042.3,1760.3 1045.0,1760.0 C1047.7,1759.6 1050.3,1759.3 1053.0,1758.9 C1055.7,1758.5 1058.3,1758.1 1061.0,1757.8 C1063.7,1757.4 1066.3,1757.0 1069.0,1756.6 C1071.7,1756.2 1074.3,1755.8 1077.0,1755.3 C1079.7,1754.9 1082.3,1754.5 1085.0,1754.0 C1087.7,1753.6 1090.3,1753.2 1093.0,1752.7 C1095.7,1752.2 1098.3,1751.8 1101.0,1751.3 C1103.7,1750.9 1106.3,1750.4 1109.0,1749.9 C1111.7,1749.4 1114.3,1748.9 1117.0,1748.4 C1119.7,1747.9 1122.3,1747.4 1125.0,1746.9 C1127.7,1746.4 1130.3,1745.9 1133.0,1745.4 C1135.7,1744.9 1138.3,1744.3 1141.0,1743.8 C1143.7,1743.3 1146.3,1742.8 1149.0,1742.2 C1151.7,1741.7 1154.3,1741.1 1157.0,1740.6 C1159.7,1740.0 1162.3,1739.5 1165.0,1738.9 C1167.7,1738.4 1170.3,1737.8 1173.0,1737.3 C1175.7,1736.7 1178.3,1736.1 1181.0,1735.6 C1183.7,1735.0 1186.3,1734.4 1189.0,1733.9 C1191.7,1733.3 1194.3,1732.7 1197.0,1732.1 C1199.7,1731.5 1202.3,1731.0 1205.0,1730.4 C1207.7,1729.8 1210.3,1729.2 1213.0,1728.6 C1215.7,1728.1 1218.3,1727.5 1221.0,1726.9 C1223.7,1726.3 1226.3,1725.7 1229.0,1725.1 C1231.7,1724.5 1234.3,1723.9 1237.0,1723.4 C1239.7,1722.8 1242.3,1722.2 1245.0,1721.6 C1247.7,1721.0 1250.3,1720.4 1253.0,1719.8 C1255.7,1719.2 1258.3,1718.7 1261.0,1718.1 C1263.7,1717.5 1266.3,1716.9 1269.0,1716.3 C1271.7,1715.7 1274.3,1715.1 1277.0,1714.5 C1279.7,1714.0 1282.3,1713.4 1285.0,1712.8 C1287.7,1712.2 1290.3,1711.6 1293.0,1711.0 C1295.7,1710.4 1298.3,1709.9 1301.0,1709.3 C1303.7,1708.7 1306.3,1708.1 1309.0,1707.5 C1311.7,1706.9 1314.3,1706.4 1317.0,1705.8 C1319.7,1705.2 1322.3,1704.6 1325.0,1704.0 C1327.7,1703.4 1330.3,1702.8 1333.0,1702.3 C1335.7,1701.7 1338.3,1701.1 1341.0,1700.5 C1343.7,1699.9 1346.3,1699.3 1349.0,1698.7 C1351.7,1698.2 1354.3,1697.6 1357.0,1697.0 C1359.7,1696.4 1362.3,1695.8 1365.0,1695.2 C1367.7,1694.7 1370.3,1694.1 1373.0,1693.5 C1375.7,1692.9 1378.3,1692.3 1381.0,1691.7 C1383.7,1691.1 1386.3,1690.6 1389.0,1690.0 C1391.7,1689.4 1394.3,1688.8 1397.0,1688.2 C1399.7,1687.6 1402.3,1687.0 1405.0,1686.5 C1407.7,1685.9 1410.3,1685.3 1413.0,1684.7 C1415.7,1684.1 1418.3,1683.5 1421.0,1682.9 C1423.7,1682.4 1426.3,1681.8 1429.0,1681.2 C1431.7,1680.6 1434.3,1680.0 1437.0,1679.4 C1439.7,1678.8 1442.3,1678.3 1445.0,1677.7 C1447.7,1677.1 1450.3,1676.5 1453.0,1675.9 C1455.7,1675.3 1458.3,1674.7 1461.0,1674.1 C1463.7,1673.5 1466.3,1673.0 1469.0,1672.4 C1471.7,1671.8 1474.3,1671.2 1477.0,1670.6 C1479.7,1670.0 1482.3,1669.4 1485.0,1668.8 C1487.7,1668.2 1490.3,1667.7 1493.0,1667.1 C1495.7,1666.5 1498.3,1665.9 1501.0,1665.3 C1503.7,1664.7 1506.3,1664.1 1509.0,1663.5 C1511.7,1662.9 1514.3,1662.3 1517.0,1661.7 C1519.7,1661.1 1522.3,1660.6 1525.0,1660.0 C1527.7,1659.4 1530.3,1658.8 1533.0,1658.2 C1535.7,1657.6 1538.3,1657.0 1541.0,1656.4 C1543.7,1655.8 1546.3,1655.2 1549.0,1654.6 C1551.7,1654.0 1554.3,1653.4 1557.0,1652.8 C1559.7,1652.2 1562.3,1651.6 1565.0,1651.0 C1567.7,1650.4 1570.3,1649.8 1573.0,1649.2 C1575.7,1648.6 1578.3,1648.0 1581.0,1647.4 C1583.7,1646.8 1586.3,1646.2 1589.0,1645.6 C1591.7,1645.0 1594.3,1644.4 1597.0,1643.8 C1599.7,1643.2 1602.3,1642.6 1605.0,1642.0 C1607.7,1641.4 1610.3,1640.8 1613.0,1640.2 C1615.7,1639.6 1618.3,1639.0 1621.0,1638.4 C1623.7,1637.8 1626.3,1637.2 1629.0,1636.6 C1631.7,1636.0 1634.3,1635.4 1637.0,1634.8 C1639.7,1634.1 1642.3,1633.5 1645.0,1632.9 C1647.7,1632.3 1650.3,1631.7 1653.0,1631.1 C1655.7,1630.5 1658.3,1629.9 1661.0,1629.3 C1663.7,1628.7 1666.3,1628.0 1669.0,1627.4 C1671.7,1626.8 1674.3,1626.2 1677.0,1625.6 C1679.7,1625.0 1682.3,1624.4 1685.0,1623.7 C1687.7,1623.1 1690.3,1622.5 1693.0,1621.9 C1695.7,1621.3 1698.3,1620.7 1701.0,1620.0 C1703.7,1619.4 1706.3,1618.8 1709.0,1618.2 C1711.7,1617.6 1714.3,1616.9 1717.0,1616.3 C1719.7,1615.7 1722.3,1615.1 1725.0,1614.4 C1727.7,1613.8 1730.3,1613.2 1733.0,1612.6 C1735.7,1611.9 1738.3,1611.3 1741.0,1610.7 C1743.7,1610.1 1746.3,1609.4 1749.0,1608.8 C1751.7,1608.2 1754.3,1607.6 1757.0,1606.9 C1759.7,1606.3 1762.3,1605.7 1765.0,1605.1 C1767.7,1604.4 1770.3,1603.8 1773.0,1603.2 C1775.7,1602.6 1778.3,1601.9 1781.0,1601.3 C1783.7,1600.7 1786.3,1600.0 1789.0,1599.4 C1791.7,1598.8 1794.3,1598.2 1797.0,1597.5 C1799.7,1596.9 1802.3,1596.3 1805.0,1595.7 C1807.7,1595.0 1810.3,1594.4 1813.0,1593.8 C1815.7,1593.1 1818.3,1592.5 1821.0,1591.9 C1823.7,1591.3 1826.3,1590.6 1829.0,1590.0 C1831.7,1589.4 1834.3,1588.8 1837.0,1588.1 C1839.7,1587.5 1842.3,1586.9 1845.0,1586.3 C1847.7,1585.6 1850.3,1585.0 1853.0,1584.4 C1855.7,1583.8 1858.3,1583.1 1861.0,1582.5 C1863.7,1581.9 1866.3,1581.3 1869.0,1580.7 C1871.7,1580.0 1874.3,1579.4 1877.0,1578.8 C1879.7,1578.2 1882.3,1577.6 1885.0,1576.9 C1887.7,1576.3 1890.3,1575.7 1893.0,1575.1 C1895.7,1574.5 1898.3,1573.9 1901.0,1573.2 C1903.7,1572.6 1906.3,1572.0 1909.0,1571.4 C1911.7,1570.8 1914.3,1570.2 1917.0,1569.6 C1919.7,1569.0 1922.9,1568.2 1925.0,1567.7 C1927.1,1567.3 1928.8,1566.9 1929.6,1566.7" fill="none" stroke="#1e97d8" stroke-width="6.2" stroke-linecap="round" stroke-linejoin="round"/>
<path d="M125.0,1774.3 C126.3,1774.3 130.3,1774.2 133.0,1774.2 C135.7,1774.2 138.3,1774.2 141.0,1774.1 C143.7,1774.1 146.3,1774.1 149.0,1774.1 C151.7,1774.0 154.3,1774.0 157.0,1774.0 C159.7,1774.0 162.3,1773.9 165.0,1773.9 C167.7,1773.9 170.3,1773.9 173.0,1773.8 C175.7,1773.8 178.3,1773.8 181.0,1773.8 C183.7,1773.7 186.3,1773.7 189.0,1773.7 C191.7,1773.6 194.3,1773.6 197.0,1773.6 C199.7,1773.5 202.3,1773.5 205.0,1773.5 C207.7,1773.4 210.3,1773.4 213.0,1773.3 C215.7,1773.3 218.3,1773.3 221.0,1773.2 C223.7,1773.2 226.3,1773.1 229.0,1773.1 C231.7,1773.0 234.3,1773.0 237.0,1772.9 C239.7,1772.9 242.3,1772.8 245.0,1772.8 C247.7,1772.7 250.3,1772.6 253.0,1772.6 C255.7,1772.5 258.3,1772.5 261.0,1772.4 C263.7,1772.3 266.3,1772.3 269.0,1772.2 C271.7,1772.1 274.3,1772.0 277.0,1772.0 C279.7,1771.9 282.3,1771.8 285.0,1771.7 C287.7,1771.7 290.3,1771.6 293.0,1771.5 C295.7,1771.4 298.3,1771.3 301.0,1771.2 C303.7,1771.1 306.3,1771.0 309.0,1770.9 C311.7,1770.9 314.3,1770.8 317.0,1770.7 C319.7,1770.6 322.3,1770.5 325.0,1770.4 C327.7,1770.3 330.3,1770.2 333.0,1770.1 C335.7,1770.0 338.3,1769.9 341.0,1769.8 C343.7,1769.7 346.3,1769.6 349.0,1769.5 C351.7,1769.4 354.3,1769.3 357.0,1769.2 C359.7,1769.1 362.3,1769.0 365.0,1768.9 C367.7,1768.8 370.3,1768.7 373.0,1768.6 C375.7,1768.5 378.3,1768.4 381.0,1768.3 C383.7,1768.2 386.3,1768.2 389.0,1768.1 C391.7,1768.0 394.3,1767.9 397.0,1767.8 C399.7,1767.7 402.3,1767.6 405.0,1767.6 C407.7,1767.5 410.3,1767.4 413.0,1767.3 C415.7,1767.3 418.3,1767.2 421.0,1767.1 C423.7,1767.0 426.3,1767.0 429.0,1766.9 C431.7,1766.9 434.3,1766.8 437.0,1766.7 C439.7,1766.7 442.3,1766.6 445.0,1766.6 C447.7,1766.5 450.3,1766.5 453.0,1766.5 C455.7,1766.4 458.3,1766.4 461.0,1766.3 C463.7,1766.3 466.3,1766.3 469.0,1766.2 C471.7,1766.2 474.3,1766.2 477.0,1766.2 C479.7,1766.1 482.3,1766.1 485.0,1766.1 C487.7,1766.1 490.3,1766.1 493.0,1766.0 C495.7,1766.0 498.3,1766.0 501.0,1766.0 C503.7,1766.0 506.3,1766.0 509.0,1766.0 C511.7,1766.0 514.3,1766.0 517.0,1766.0 C519.7,1766.0 522.3,1766.0 525.0,1766.0 C527.7,1766.0 530.3,1766.0 533.0,1766.0 C535.7,1766.0 538.3,1766.0 541.0,1766.0 C543.7,1766.0 546.3,1766.1 549.0,1766.1 C551.7,1766.1 554.3,1766.1 557.0,1766.1 C559.7,1766.1 562.3,1766.1 565.0,1766.2 C567.7,1766.2 570.3,1766.2 573.0,1766.2 C575.7,1766.2 578.3,1766.3 581.0,1766.3 C583.7,1766.3 586.3,1766.3 589.0,1766.3 C591.7,1766.4 594.3,1766.4 597.0,1766.4 C599.7,1766.4 602.3,1766.5 605.0,1766.5 C607.7,1766.5 610.3,1766.5 613.0,1766.6 C615.7,1766.6 618.3,1766.6 621.0,1766.6 C623.7,1766.7 626.3,1766.7 629.0,1766.7 C631.7,1766.7 634.3,1766.8 637.0,1766.8 C639.7,1766.8 642.3,1766.8 645.0,1766.9 C647.7,1766.9 650.3,1766.9 653.0,1766.9 C655.7,1767.0 658.3,1767.0 661.0,1767.0 C663.7,1767.0 666.3,1767.0 669.0,1767.1 C671.7,1767.1 674.3,1767.1 677.0,1767.1 C679.7,1767.1 682.3,1767.1 685.0,1767.2 C687.7,1767.2 690.3,1767.2 693.0,1767.2 C695.7,1767.2 698.3,1767.2 701.0,1767.2 C703.7,1767.2 706.3,1767.3 709.0,1767.3 C711.7,1767.3 714.3,1767.3 717.0,1767.3 C719.7,1767.3 722.3,1767.3 725.0,1767.3 C727.7,1767.3 730.3,1767.3 733.0,1767.3 C735.7,1767.3 738.3,1767.3 741.0,1767.3 C743.7,1767.3 746.3,1767.2 749.0,1767.2 C751.7,1767.2 754.3,1767.2 757.0,1767.2 C759.7,1767.2 762.3,1767.2 765.0,1767.1 C767.7,1767.1 770.3,1767.1 773.0,1767.1 C775.7,1767.0 778.3,1767.0 781.0,1767.0 C783.7,1767.0 786.3,1766.9 789.0,1766.9 C791.7,1766.9 794.3,1766.8 797.0,1766.8 C799.7,1766.8 802.3,1766.7 805.0,1766.7 C807.7,1766.6 810.3,1766.6 813.0,1766.5 C815.7,1766.5 818.3,1766.4 821.0,1766.4 C823.7,1766.3 826.3,1766.3 829.0,1766.2 C831.7,1766.2 834.3,1766.1 837.0,1766.0 C839.7,1766.0 842.3,1765.9 845.0,1765.8 C847.7,1765.8 850.3,1765.7 853.0,1765.6 C855.7,1765.6 858.3,1765.5 861.0,1765.4 C863.7,1765.3 866.3,1765.2 869.0,1765.2 C871.7,1765.1 874.3,1765.0 877.0,1764.9 C879.7,1764.9 882.3,1764.8 885.0,1764.7 C887.7,1764.6 890.3,1764.5 893.0,1764.5 C895.7,1764.4 898.3,1764.3 901.0,1764.2 C903.7,1764.1 906.3,1764.1 909.0,1764.0 C911.7,1763.9 914.3,1763.8 917.0,1763.7 C919.7,1763.7 922.3,1763.6 925.0,1763.5 C927.7,1763.5 930.3,1763.4 933.0,1763.3 C935.7,1763.3 938.3,1763.2 941.0,1763.1 C943.7,1763.1 946.3,1763.0 949.0,1762.9 C951.7,1762.9 954.3,1762.8 957.0,1762.8 C959.7,1762.7 962.3,1762.7 965.0,1762.6 C967.7,1762.6 970.3,1762.5 973.0,1762.5 C975.7,1762.5 978.3,1762.4 981.0,1762.4 C983.7,1762.3 986.3,1762.3 989.0,1762.3 C991.7,1762.2 994.3,1762.2 997.0,1762.1 C999.7,1762.1 1002.3,1762.1 1005.0,1762.0 C1007.7,1762.0 1010.3,1762.0 1013.0,1762.0 C1015.7,1761.9 1018.3,1761.9 1021.0,1761.9 C1023.7,1761.8 1026.3,1761.8 1029.0,1761.8 C1031.7,1761.8 1034.3,1761.7 1037.0,1761.7 C1039.7,1761.7 1042.3,1761.7 1045.0,1761.7 C1047.7,1761.6 1050.3,1761.6 1053.0,1761.6 C1055.7,1761.6 1058.3,1761.6 1061.0,1761.5 C1063.7,1761.5 1066.3,1761.5 1069.0,1761.5 C1071.7,1761.5 1074.3,1761.4 1077.0,1761.4 C1079.7,1761.4 1082.3,1761.4 1085.0,1761.4 C1087.7,1761.3 1090.3,1761.3 1093.0,1761.3 C1095.7,1761.3 1098.3,1761.2 1101.0,1761.2 C1103.7,1761.2 1106.3,1761.2 1109.0,1761.2 C1111.7,1761.1 1114.3,1761.1 1117.0,1761.1 C1119.7,1761.1 1122.3,1761.0 1125.0,1761.0 C1127.7,1761.0 1130.3,1761.0 1133.0,1760.9 C1135.7,1760.9 1138.3,1760.9 1141.0,1760.9 C1143.7,1760.8 1146.3,1760.8 1149.0,1760.8 C1151.7,1760.7 1154.3,1760.7 1157.0,1760.7 C1159.7,1760.6 1162.3,1760.6 1165.0,1760.6 C1167.7,1760.5 1170.3,1760.5 1173.0,1760.5 C1175.7,1760.4 1178.3,1760.4 1181.0,1760.4 C1183.7,1760.3 1186.3,1760.3 1189.0,1760.2 C1191.7,1760.2 1194.3,1760.2 1197.0,1760.1 C1199.7,1760.1 1202.3,1760.0 1205.0,1760.0 C1207.7,1760.0 1210.3,1759.9 1213.0,1759.9 C1215.7,1759.8 1218.3,1759.8 1221.0,1759.7 C1223.7,1759.7 1226.3,1759.7 1229.0,1759.6 C1231.7,1759.6 1234.3,1759.5 1237.0,1759.5 C1239.7,1759.4 1242.3,1759.4 1245.0,1759.3 C1247.7,1759.3 1250.3,1759.3 1253.0,1759.2 C1255.7,1759.2 1258.3,1759.1 1261.0,1759.1 C1263.7,1759.0 1266.3,1759.0 1269.0,1758.9 C1271.7,1758.9 1274.3,1758.8 1277.0,1758.8 C1279.7,1758.7 1282.3,1758.7 1285.0,1758.6 C1287.7,1758.6 1290.3,1758.5 1293.0,1758.5 C1295.7,1758.5 1298.3,1758.4 1301.0,1758.4 C1303.7,1758.3 1306.3,1758.3 1309.0,1758.2 C1311.7,1758.2 1314.3,1758.1 1317.0,1758.1 C1319.7,1758.0 1322.3,1758.0 1325.0,1757.9 C1327.7,1757.9 1330.3,1757.8 1333.0,1757.8 C1335.7,1757.7 1338.3,1757.7 1341.0,1757.6 C1343.7,1757.6 1346.3,1757.5 1349.0,1757.5 C1351.7,1757.4 1354.3,1757.4 1357.0,1757.3 C1359.7,1757.3 1362.3,1757.2 1365.0,1757.2 C1367.7,1757.1 1370.3,1757.1 1373.0,1757.0 C1375.7,1757.0 1378.3,1756.9 1381.0,1756.9 C1383.7,1756.8 1386.3,1756.8 1389.0,1756.7 C1391.7,1756.7 1394.3,1756.6 1397.0,1756.6 C1399.7,1756.5 1402.3,1756.5 1405.0,1756.4 C1407.7,1756.4 1410.3,1756.3 1413.0,1756.3 C1415.7,1756.2 1418.3,1756.2 1421.0,1756.1 C1423.7,1756.1 1426.3,1756.0 1429.0,1756.0 C1431.7,1755.9 1434.3,1755.9 1437.0,1755.8 C1439.7,1755.8 1442.3,1755.7 1445.0,1755.7 C1447.7,1755.6 1450.3,1755.6 1453.0,1755.5 C1455.7,1755.5 1458.3,1755.4 1461.0,1755.4 C1463.7,1755.3 1466.3,1755.3 1469.0,1755.2 C1471.7,1755.2 1474.3,1755.1 1477.0,1755.1 C1479.7,1755.0 1482.3,1755.0 1485.0,1754.9 C1487.7,1754.8 1490.3,1754.8 1493.0,1754.7 C1495.7,1754.7 1498.3,1754.6 1501.0,1754.6 C1503.7,1754.5 1506.3,1754.5 1509.0,1754.4 C1511.7,1754.4 1514.3,1754.3 1517.0,1754.3 C1519.7,1754.2 1522.3,1754.2 1525.0,1754.1 C1527.7,1754.1 1530.3,1754.0 1533.0,1754.0 C1535.7,1753.9 1538.3,1753.9 1541.0,1753.8 C1543.7,1753.8 1546.3,1753.7 1549.0,1753.7 C1551.7,1753.6 1554.3,1753.6 1557.0,1753.5 C1559.7,1753.5 1562.3,1753.4 1565.0,1753.4 C1567.7,1753.3 1570.3,1753.3 1573.0,1753.2 C1575.7,1753.2 1578.3,1753.1 1581.0,1753.1 C1583.7,1753.0 1586.3,1753.0 1589.0,1752.9 C1591.7,1752.9 1594.3,1752.8 1597.0,1752.8 C1599.7,1752.7 1602.3,1752.7 1605.0,1752.6 C1607.7,1752.6 1610.3,1752.5 1613.0,1752.5 C1615.7,1752.4 1618.3,1752.4 1621.0,1752.3 C1623.7,1752.3 1626.3,1752.2 1629.0,1752.1 C1631.7,1752.1 1634.3,1752.0 1637.0,1752.0 C1639.7,1751.9 1642.3,1751.9 1645.0,1751.8 C1647.7,1751.8 1650.3,1751.7 1653.0,1751.7 C1655.7,1751.6 1658.3,1751.6 1661.0,1751.5 C1663.7,1751.5 1666.3,1751.4 1669.0,1751.4 C1671.7,1751.3 1674.3,1751.3 1677.0,1751.2 C1679.7,1751.2 1682.3,1751.1 1685.0,1751.1 C1687.7,1751.0 1690.3,1751.0 1693.0,1750.9 C1695.7,1750.9 1698.3,1750.8 1701.0,1750.8 C1703.7,1750.7 1706.3,1750.7 1709.0,1750.6 C1711.7,1750.6 1714.3,1750.5 1717.0,1750.4 C1719.7,1750.4 1722.3,1750.3 1725.0,1750.3 C1727.7,1750.2 1730.3,1750.2 1733.0,1750.1 C1735.7,1750.1 1738.3,1750.0 1741.0,1750.0 C1743.7,1749.9 1746.3,1749.9 1749.0,1749.8 C1751.7,1749.8 1754.3,1749.7 1757.0,1749.7 C1759.7,1749.6 1762.3,1749.6 1765.0,1749.5 C1767.7,1749.5 1770.3,1749.4 1773.0,1749.3 C1775.7,1749.3 1778.3,1749.2 1781.0,1749.2 C1783.7,1749.1 1786.3,1749.1 1789.0,1749.0 C1791.7,1749.0 1794.3,1748.9 1797.0,1748.9 C1799.7,1748.8 1802.3,1748.8 1805.0,1748.7 C1807.7,1748.7 1810.3,1748.6 1813.0,1748.6 C1815.7,1748.5 1818.3,1748.4 1821.0,1748.4 C1823.7,1748.3 1826.3,1748.3 1829.0,1748.2 C1831.7,1748.2 1834.3,1748.1 1837.0,1748.1 C1839.7,1748.0 1842.3,1748.0 1845.0,1747.9 C1847.7,1747.9 1850.3,1747.8 1853.0,1747.7 C1855.7,1747.7 1858.3,1747.6 1861.0,1747.6 C1863.7,1747.5 1866.3,1747.5 1869.0,1747.4 C1871.7,1747.4 1874.3,1747.3 1877.0,1747.3 C1879.7,1747.2 1882.3,1747.2 1885.0,1747.1 C1887.7,1747.0 1890.3,1747.0 1893.0,1746.9 C1895.7,1746.9 1898.3,1746.8 1901.0,1746.8 C1903.7,1746.7 1906.3,1746.7 1909.0,1746.6 C1911.7,1746.5 1914.3,1746.5 1917.0,1746.4 C1919.7,1746.4 1922.9,1746.3 1925.0,1746.3 C1927.1,1746.2 1928.8,1746.2 1929.6,1746.2" fill="none" stroke="#2d574a" stroke-width="6.2" stroke-linecap="round" stroke-linejoin="round"/>
<rect x="1912.9" y="1570" width="16.7" height="175.6" fill="#b5b5b5" fill-opacity="0.27"/>
<line x1="1921.2" y1="1527.8" x2="1921.2" y2="1672.4" stroke="#000" stroke-width="2.2"/>
<circle cx="1921.2" cy="1672.4" r="4.2" fill="#000"/>
<text x="1788.50" y="1428.2" font-family="'Liberation Sans', sans-serif" font-size="36.5" font-weight="normal" font-style="normal" fill="#0a0a0a" textLength="126.50" lengthAdjust="spacingAndGlyphs" >Range of</text>
<text x="1789.50" y="1467.5" font-family="'Liberation Sans', sans-serif" font-size="36.5" font-weight="normal" font-style="normal" fill="#0a0a0a" textLength="148.50" lengthAdjust="spacingAndGlyphs" >stablecoin</text>
<text x="1788.50" y="1507.0" font-family="'Liberation Sans', sans-serif" font-size="36.5" font-weight="normal" font-style="normal" fill="#0a0a0a" textLength="162.50" lengthAdjust="spacingAndGlyphs" >market size</text>
<text x="36.50" y="1954.9" font-family="'Liberation Sans', sans-serif" font-size="34.6" font-weight="normal" font-style="normal" fill="#4e4e4e" textLength="1878.50" lengthAdjust="spacingAndGlyphs" >Sources: Deposits and MMF data from the Federal Reserve Economic Data; Stablecoin supply data from the US Treasury; M2 projection from</text>
<text x="36.50" y="1997.2" font-family="'Liberation Sans', sans-serif" font-size="34.6" font-weight="normal" font-style="normal" fill="#4e4e4e" textLength="1883.50" lengthAdjust="spacingAndGlyphs" >Oxford Economics; range of stablecoin market estimates from different industry forecasts and Deloitte Center for Financial Services analysis.</text>
<text x="35.80" y="2085.0" font-family="'Liberation Sans', sans-serif" font-size="30" font-weight="bold" font-style="normal" fill="#000" textLength="111.20" lengthAdjust="spacingAndGlyphs" stroke="#000" stroke-width="0.9">Deloitte</text>
<circle cx="151.1" cy="2082.4" r="3.3" fill="#84bd3e"/>
<rect x="172.9" y="2046.3" width="2.4" height="54.7" fill="#111"/>
<text x="194.50" y="2087.7" font-family="'Liberation Sans', sans-serif" font-size="34.6" font-weight="normal" font-style="normal" fill="#1a1a1a" textLength="1236.50" lengthAdjust="spacingAndGlyphs" >https://www.deloitte.com/us/en/insights/research-centers/center-for-financial-services.html</text>
</svg>
</body></html>
